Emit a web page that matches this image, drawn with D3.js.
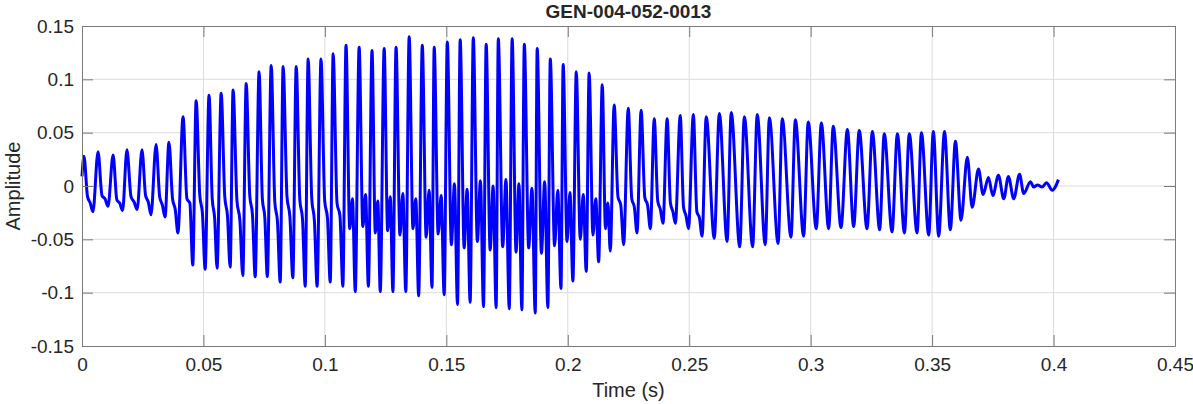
<!DOCTYPE html>
<html>
<head>
<meta charset="utf-8">
<script src="https://cdn.jsdelivr.net/npm/d3@7"></script>
<style>
  body { margin: 0; background: #fff; }
  svg text { font-family: "Liberation Sans", Arial, sans-serif; fill: #262626; }
</style>
</head>
<body>
<div id="chart"></div>
<script>
// one entry per glottal cycle (times in ms)
const peakT = [0.8, 6.6, 12.8, 18.5, 24.7, 30.5, 35.8, 41.6, 47.0, 52.3,
  57.3, 62.2, 67.6, 72.9, 77.9, 82.8, 88.2, 93.1, 98.4, 103.4,
  108.7, 114.1, 119.4, 124.4, 129.3, 134.7, 140.1, 145.0, 150.4, 155.7,
  161.1, 166.4, 171.4, 177.1, 182.1, 187.4, 192.8, 198.1, 203.5, 208.8,
  214.2, 219.1, 224.9, 230.2, 235.6, 240.9, 246.3, 251.7, 257.0, 262.4,
  267.3, 272.7, 278.0, 283.0, 288.3, 293.7, 299.0, 304.4, 309.3, 315.1,
  320.0, 325.4, 330.3, 335.7, 340.6, 345.6, 350.5, 355.1, 359.6, 364.5,
  369.1, 373.2, 377.3, 381.4, 386.0, 390.5, 393.4, 397.1, 402.0];
const peakV = [0.028, 0.032, 0.029, 0.034, 0.034, 0.039, 0.041, 0.065, 0.080, 0.085,
  0.087, 0.090, 0.096, 0.107, 0.113, 0.112, 0.112, 0.119, 0.119, 0.124,
  0.132, 0.130, 0.127, 0.129, 0.130, 0.140, 0.132, 0.130, 0.135, 0.137,
  0.139, 0.133, 0.138, 0.138, 0.133, 0.129, 0.119, 0.114, 0.107, 0.106,
  0.095, 0.076, 0.073, 0.071, 0.063, 0.063, 0.066, 0.067, 0.065, 0.068,
  0.069, 0.065, 0.067, 0.064, 0.063, 0.062, 0.060, 0.059, 0.056, 0.053,
  0.052, 0.051, 0.049, 0.049, 0.049, 0.050, 0.051, 0.051, 0.042, 0.027,
  0.016, 0.008, 0.010, 0.009, 0.011, 0.004, 0.001, 0.003, 0.006];
// deep minimum just before each peak
const troughT = [null, 4.5, 10.7, 16.7, 22.7, 28.4, 34.2, 39.5, 45.6, 50.7,
  55.6, 61.0, 66.2, 71.3, 76.3, 81.6, 86.8, 91.9, 96.8, 102.2,
  107.4, 112.5, 117.9, 122.8, 128.0, 133.3, 138.6, 144.1, 149.1, 154.6,
  159.8, 165.3, 170.5, 175.9, 181.1, 186.6, 191.8, 197.2, 202.1, 207.6,
  212.7, 217.5, 223.0, 228.5, 234.0, 239.2, 244.3, 249.7, 255.3, 260.3,
  265.6, 270.8, 276.1, 281.3, 286.6, 291.9, 297.1, 302.3, 307.4, 312.5,
  317.7, 323.2, 328.4, 333.5, 338.6, 343.8, 348.6, 352.7, 357.5, 361.9,
  366.5, 371.0, 375.0, 379.5, 383.6, 387.7, 391.8, 395.3, 399.5];
const troughV = [null, -0.024, -0.019, -0.023, -0.022, -0.027, -0.029, -0.044, -0.074, -0.078,
  -0.077, -0.076, -0.084, -0.085, -0.085, -0.090, -0.086, -0.094, -0.094, -0.090,
  -0.094, -0.099, -0.094, -0.099, -0.099, -0.099, -0.103, -0.095, -0.102, -0.111,
  -0.109, -0.113, -0.114, -0.115, -0.116, -0.119, -0.114, -0.096, -0.089, -0.080,
  -0.071, -0.061, -0.055, -0.044, -0.040, -0.035, -0.035, -0.040, -0.047, -0.049,
  -0.052, -0.057, -0.057, -0.055, -0.054, -0.048, -0.047, -0.040, -0.040, -0.039,
  -0.038, -0.040, -0.041, -0.043, -0.044, -0.044, -0.046, -0.047, -0.041, -0.032,
  -0.020, -0.008, -0.009, -0.012, -0.012, -0.007, -0.001, -0.001, -0.004];
// secondary wiggle after each peak (first dip, then bump); null = plain sine-like cycle
const midA = [-0.010, -0.009, -0.013, -0.010, -0.009, -0.010, -0.012, -0.012, -0.008, -0.012,
  -0.010, -0.014, -0.009, -0.012, -0.015, -0.010, -0.013, -0.011, -0.014, -0.016,
  -0.040, -0.038, -0.044, -0.042, -0.046, -0.040, -0.048, -0.045, -0.055, -0.058,
  -0.052, -0.060, -0.057, -0.062, -0.058, -0.063, -0.056, -0.052, -0.050, -0.046,
  -0.040, -0.010, -0.012, -0.011, -0.014, -0.016, -0.020, -0.024, null, null,
  null, null, null, null, null, null, null, null, null, null,
  null, null, null, null, null, null, null, null, null, null,
  null, null, null, null, null, null, null, null, null];
const midB = [-0.016, -0.012, -0.016, -0.015, -0.015, -0.018, -0.022, -0.016, -0.026, -0.030,
  -0.028, -0.032, -0.027, -0.030, -0.034, -0.029, -0.031, -0.033, -0.030, -0.028,
  -0.012, -0.008, -0.014, -0.010, -0.007, -0.012, -0.004, -0.009, 0.002, -0.003,
  0.005, 0.000, 0.006, 0.002, -0.002, 0.004, -0.004, -0.006, -0.008, -0.012,
  -0.016, -0.018, -0.020, -0.018, -0.022, -0.024, -0.028, -0.030, null, null,
  null, null, null, null, null, null, null, null, null, null,
  null, null, null, null, null, null, null, null, null, null,
  null, null, null, null, null, null, null, null, null];
const startV = 0.009;
const xTicks = [0, 0.05, 0.1, 0.15, 0.2, 0.25, 0.3, 0.35, 0.4, 0.45];
const yTicks = [-0.15, -0.1, -0.05, 0, 0.05, 0.1, 0.15];
const titleText = "GEN-004-052-0013";

const W = 1193, H = 404;
const margin = { top: 26, right: 18, bottom: 58, left: 82 };
const iw = W - margin.left - margin.right;
const ih = H - margin.top - margin.bottom;

const svg = d3.select("#chart").append("svg")
  .attr("width", W).attr("height", H);

const x = d3.scaleLinear().domain([0, 0.45]).range([0, iw]);
const y = d3.scaleLinear().domain([-0.15, 0.15]).range([ih, 0]);

const g = svg.append("g").attr("transform", `translate(${margin.left},${margin.top})`);

// grid
g.append("g").selectAll("line.gx").data(xTicks.slice(1, -1)).enter().append("line")
  .attr("x1", d => x(d)).attr("x2", d => x(d)).attr("y1", 0).attr("y2", ih)
  .style("stroke", "#dcdcdc").style("stroke-width", 1);
g.append("g").selectAll("line.gy").data(yTicks.slice(1, -1)).enter().append("line")
  .attr("y1", d => y(d)).attr("y2", d => y(d)).attr("x1", 0).attr("x2", iw)
  .style("stroke", "#dcdcdc").style("stroke-width", 1);

// build the trace from the per-cycle readings
const pts = [[0, startV]];
for (let i = 0; i < peakT.length; i++) {
  if (troughT[i] !== null) pts.push([troughT[i], troughV[i]]);
  pts.push([peakT[i], peakV[i]]);
  if (midA[i] !== null && i + 1 < peakT.length) {
    const span = troughT[i + 1] - peakT[i];
    pts.push([peakT[i] + span * 0.4, midA[i]]);
    pts.push([peakT[i] + span * 0.7, midB[i]]);
  }
}

const line = d3.line()
  .x(d => x(d[0] / 1000))
  .y(d => y(d[1]))
  .curve(d3.curveMonotoneX);

g.append("path")
  .datum(pts)
  .attr("d", line)
  .style("fill", "none")
  .style("stroke", "#0000ff")
  .style("stroke-width", 3)
  .style("stroke-linejoin", "round");

// axes (MATLAB style box with inward ticks)
const fmt = d => d === 0 ? "0" : String(d);
const tickLen = 11;
const axB = g.append("g").attr("transform", `translate(0,${ih})`)
  .call(d3.axisBottom(x).tickValues(xTicks).tickFormat(fmt).tickSizeInner(-tickLen).tickSizeOuter(0).tickPadding(12));
const axT = g.append("g")
  .call(d3.axisTop(x).tickValues(xTicks).tickFormat("").tickSizeInner(-tickLen).tickSizeOuter(0));
const axL = g.append("g")
  .call(d3.axisLeft(y).tickValues(yTicks).tickFormat(fmt).tickSizeInner(-tickLen).tickSizeOuter(0).tickPadding(8));
const axR = g.append("g").attr("transform", `translate(${iw},0)`)
  .call(d3.axisRight(y).tickValues(yTicks).tickFormat("").tickSizeInner(-tickLen).tickSizeOuter(0));

[axB, axT, axL, axR].forEach(a => {
  a.selectAll("path.domain").style("stroke", "#7a7a7a").style("stroke-width", 1);
  a.selectAll(".tick line").style("stroke", "#7a7a7a");
  a.selectAll(".tick text").style("font-size", "19px").style("font-family", "'Liberation Sans', Arial, sans-serif").style("fill", "#262626");
});

// labels
svg.append("text")
  .attr("x", margin.left + iw / 2).attr("y", 18)
  .attr("text-anchor", "middle")
  .style("font-size", "19px").style("font-weight", "bold")
  .text(titleText);

svg.append("text")
  .attr("x", margin.left + iw / 2).attr("y", 397)
  .attr("text-anchor", "middle")
  .style("font-size", "20px")
  .text("Time (s)");

svg.append("text")
  .attr("transform", `translate(20,${margin.top + ih / 2}) rotate(-90)`)
  .attr("text-anchor", "middle")
  .style("font-size", "20px")
  .text("Amplitude");
</script>
</body>
</html>
